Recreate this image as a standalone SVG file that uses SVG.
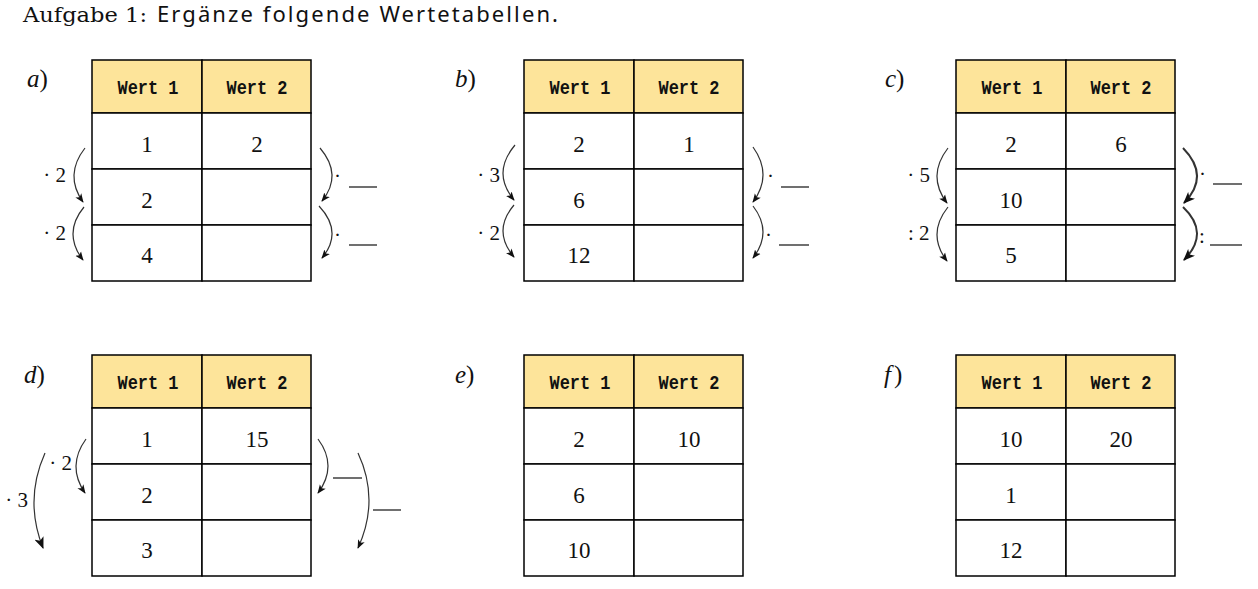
<svg xmlns="http://www.w3.org/2000/svg" width="1258" height="589" viewBox="0 0 1258 589">
<defs>
<style>
.hd{fill:#FDE49A;stroke:#000;stroke-width:1.5}
.cell{fill:#fff;stroke:#000;stroke-width:1.5}
.ht{font-family:"Liberation Mono","DejaVu Sans Mono",monospace;font-size:21px;font-weight:bold;fill:#111;text-anchor:middle}
.num{font-family:"Liberation Serif","DejaVu Serif",serif;font-size:23px;fill:#111;text-anchor:middle}
.lab{font-family:"Liberation Serif","DejaVu Serif",serif;font-size:25px;fill:#111}
.op{font-family:"Liberation Serif","DejaVu Serif",serif;font-size:21px;fill:#111}
.arc{fill:none;stroke:#333;stroke-width:1.2}
.arcb{fill:none;stroke:#333;stroke-width:2}
.blank{stroke:#111;stroke-width:1.2}
</style>
<marker id="ah" viewBox="0 0 10 8" refX="9" refY="4" markerWidth="9" markerHeight="8" markerUnits="userSpaceOnUse" orient="auto">
<path d="M0,0 L10,4 L0,8 L2.5,4 z" fill="#111"/>
</marker>
<marker id="ahb" viewBox="0 0 10 8" refX="9" refY="4" markerWidth="12" markerHeight="10" markerUnits="userSpaceOnUse" orient="auto">
<path d="M0,0 L10,4 L0,8 L2.5,4 z" fill="#111"/>
</marker>
<g id="tbl">
<rect class="hd" x="0" y="0" width="110" height="53"/>
<rect class="hd" x="110" y="0" width="109" height="53"/>
<rect class="cell" x="0" y="53" width="110" height="56"/>
<rect class="cell" x="110" y="53" width="109" height="56"/>
<rect class="cell" x="0" y="109" width="110" height="56"/>
<rect class="cell" x="110" y="109" width="109" height="56"/>
<rect class="cell" x="0" y="165" width="110" height="56"/>
<rect class="cell" x="110" y="165" width="109" height="56"/>
<text class="ht" x="56" y="34" textLength="61" lengthAdjust="spacingAndGlyphs">Wert 1</text>
<text class="ht" x="165" y="34" textLength="61" lengthAdjust="spacingAndGlyphs">Wert 2</text>
</g>
</defs>
<rect width="1258" height="589" fill="#fff"/>
<g id="title">
<text x="23" y="22" font-family="DejaVu Serif,serif" font-size="21" fill="#111" textLength="124" lengthAdjust="spacingAndGlyphs">Aufgabe 1:</text>
<text x="157" y="22" font-family="Noto Sans,sans-serif" font-size="22" fill="#111" textLength="401" lengthAdjust="spacing">Ergänze folgende Wertetabellen.</text>
</g>

<g id="table-a">
<text class="lab" x="27" y="87"><tspan font-style="italic">a</tspan>)</text>
<use href="#tbl" x="92" y="60"/>
<text class="num" x="147" y="152">1</text><text class="num" x="257" y="152">2</text>
<text class="num" x="147" y="208">2</text>
<text class="num" x="147" y="263">4</text>
</g>
<g id="table-b">
<text class="lab" x="455" y="87"><tspan font-style="italic">b</tspan>)</text>
<use href="#tbl" x="524" y="60"/>
<text class="num" x="579" y="152">2</text><text class="num" x="689" y="152">1</text>
<text class="num" x="579" y="208">6</text>
<text class="num" x="579" y="263">12</text>
</g>
<g id="table-c">
<text class="lab" x="885" y="87"><tspan font-style="italic">c</tspan>)</text>
<use href="#tbl" x="956" y="60"/>
<text class="num" x="1011" y="152">2</text><text class="num" x="1121" y="152">6</text>
<text class="num" x="1011" y="208">10</text>
<text class="num" x="1011" y="263">5</text>
</g>
<g id="table-d">
<text class="lab" x="24" y="383"><tspan font-style="italic">d</tspan>)</text>
<use href="#tbl" x="92" y="355"/>
<text class="num" x="147" y="447">1</text><text class="num" x="257" y="447">15</text>
<text class="num" x="147" y="503">2</text>
<text class="num" x="147" y="558">3</text>
</g>
<g id="table-e">
<text class="lab" x="455" y="383"><tspan font-style="italic">e</tspan>)</text>
<use href="#tbl" x="524" y="355"/>
<text class="num" x="579" y="447">2</text><text class="num" x="689" y="447">10</text>
<text class="num" x="579" y="503">6</text>
<text class="num" x="579" y="558">10</text>
</g>
<g id="table-f">
<text class="lab" x="884" y="383"><tspan font-style="italic">f</tspan><tspan dx="3">)</tspan></text>
<use href="#tbl" x="956" y="355"/>
<text class="num" x="1011" y="447">10</text><text class="num" x="1121" y="447">20</text>
<text class="num" x="1011" y="503">1</text>
<text class="num" x="1011" y="558">12</text>
</g>

<g id="connectors">
<!-- a -->
<path class="arc" d="M85,148 Q64,175 83,202" marker-end="url(#ah)"/>
<path class="arc" d="M84,207 Q62.5,233 83,260" marker-end="url(#ah)"/>
<path class="arc" d="M320,148 Q343,175 322,201" marker-end="url(#ah)"/>
<path class="arc" d="M319,206 Q343.5,232 322,258" marker-end="url(#ah)"/>
<text class="op" x="66" y="182" text-anchor="end">· 2</text>
<text class="op" x="66" y="240" text-anchor="end">· 2</text>
<text class="op" x="334" y="183">·</text>
<line class="blank" x1="349" y1="187" x2="377" y2="187"/>
<text class="op" x="334" y="242">·</text>
<line class="blank" x1="349" y1="245" x2="377" y2="245"/>
<!-- b -->
<path class="arc" d="M515,145 Q491.5,173 514,200" marker-end="url(#ah)"/>
<path class="arc" d="M514,205 Q492,231 514,257" marker-end="url(#ah)"/>
<path class="arc" d="M753,147 Q773,175 753,202" marker-end="url(#ah)"/>
<path class="arc" d="M753,206 Q773,232 753,258" marker-end="url(#ah)"/>
<text class="op" x="500" y="182" text-anchor="end">· 3</text>
<text class="op" x="500" y="240" text-anchor="end">· 2</text>
<text class="op" x="767" y="183">·</text>
<line class="blank" x1="781" y1="187" x2="809" y2="187"/>
<text class="op" x="765" y="242">·</text>
<line class="blank" x1="779" y1="245" x2="809" y2="245"/>
<!-- c -->
<path class="arc" d="M948,148 Q926.5,176 947,203" marker-end="url(#ah)"/>
<path class="arc" d="M948,207 Q926.5,234 947,261" marker-end="url(#ah)"/>
<path class="arcb" d="M1183,148 Q1210.5,176 1184,203" marker-end="url(#ahb)"/>
<path class="arcb" d="M1183,207 Q1210.5,233 1184,260" marker-end="url(#ahb)"/>
<text class="op" x="930" y="182" text-anchor="end">· 5</text>
<text class="op" x="908" y="240">: 2</text>
<text class="op" x="1199" y="181">·</text>
<line class="blank" x1="1213" y1="184" x2="1242" y2="184"/>
<text class="op" x="1199" y="243">:</text>
<line class="blank" x1="1210" y1="245" x2="1242" y2="245"/>
<!-- d -->
<path class="arc" d="M86,439 Q66.5,466 85,493" marker-end="url(#ah)"/>
<path class="arc" d="M45,453 Q24,500 43,548" marker-end="url(#ahb)"/>
<path class="arc" d="M318,439 Q338,466 318,493" marker-end="url(#ah)"/>
<path class="arc" d="M358,453 Q380,500 358,548" marker-end="url(#ah)"/>
<text class="op" x="72" y="470" text-anchor="end">· 2</text>
<text class="op" x="28" y="507" text-anchor="end">· 3</text>
<line class="blank" x1="333" y1="478" x2="362" y2="478"/>
<line class="blank" x1="373" y1="510" x2="401" y2="510"/>
</g>
</svg>
